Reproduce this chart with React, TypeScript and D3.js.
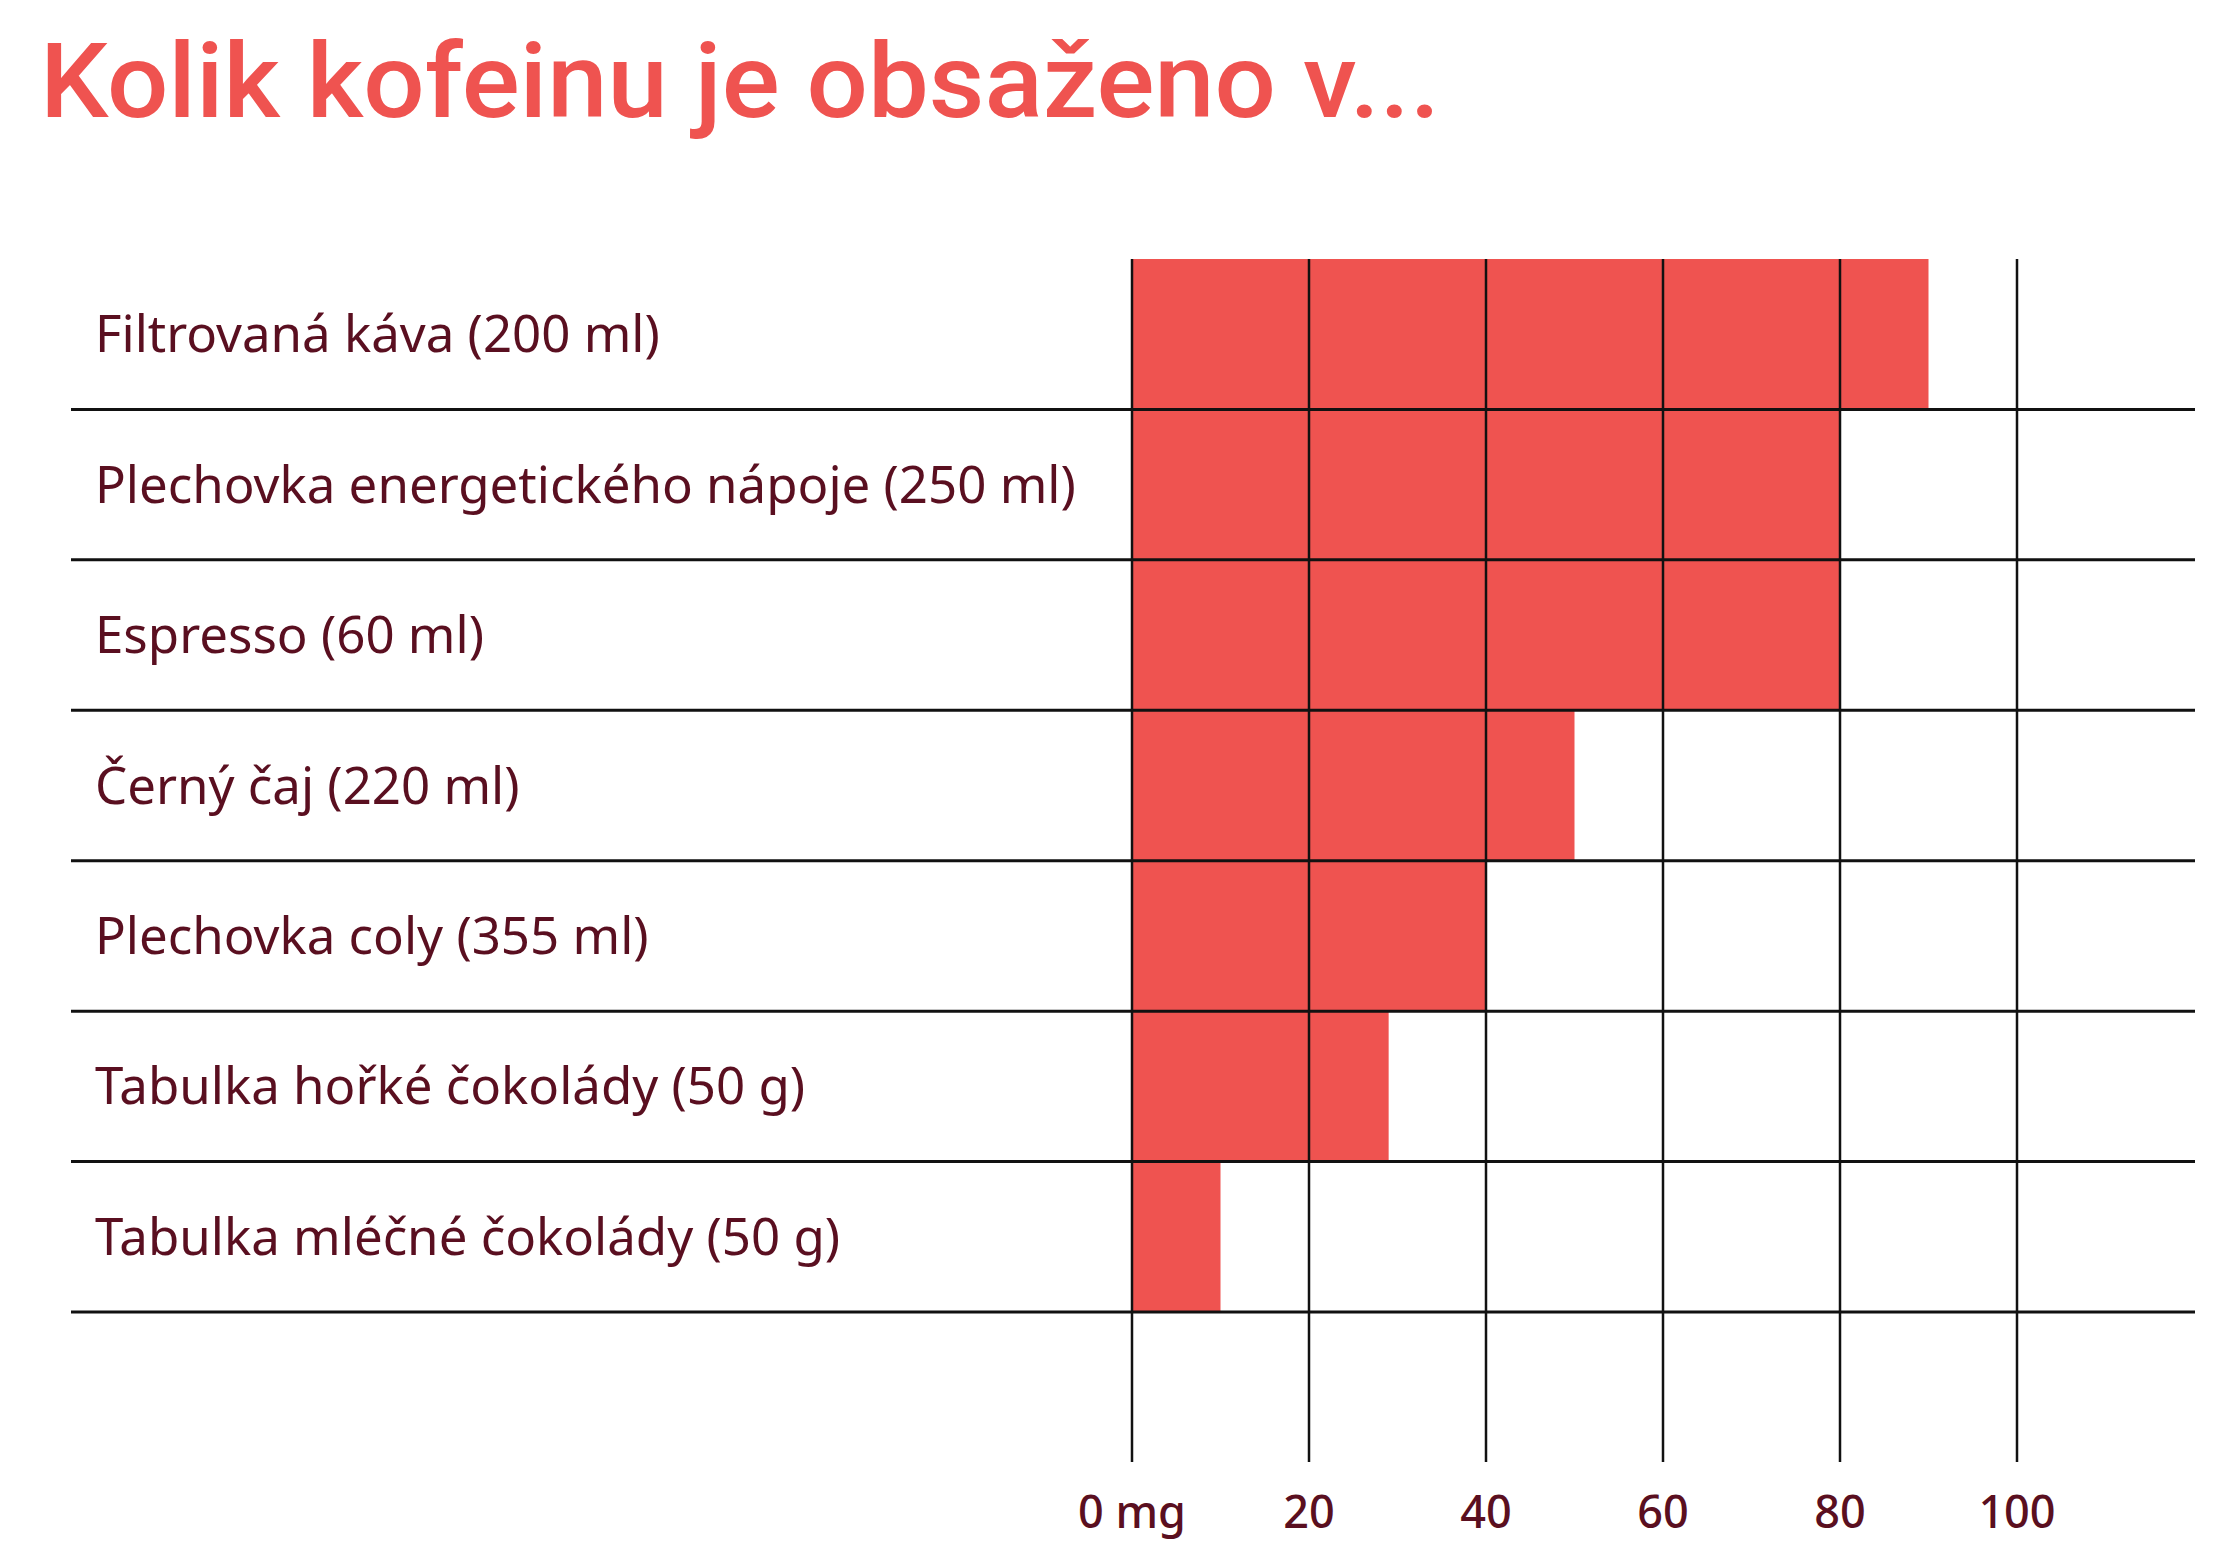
import React from "react";
import * as d3 from "d3";

const categories = [
  "Filtrovaná káva (200 ml)",
  "Plechovka energetického nápoje (250 ml)",
  "Espresso (60 ml)",
  "Černý čaj (220 ml)",
  "Plechovka coly (355 ml)",
  "Tabulka hořké čokolády (50 g)",
  "Tabulka mléčné čokolády (50 g)",
];
const caffeineMg = [90, 80, 80, 50, 40, 29, 10];
const tickValues = [0, 20, 40, 60, 80, 100];
const tickLabels = ["0 mg", "20", "40", "60", "80", "100"];
const title = "Kolik kofeinu je obsaženo v...";

const W = 2219;
const H = 1568;
const RED = "#ef5350";
const MAROON = "#5a0f20";

export default function App() {
  const x = d3.scaleLinear().domain([0, 100]).range([1132, 2017]);
  const y = d3.scaleBand<string>().domain(categories).range([259, 1312]).padding(0);
  const bw = y.bandwidth();
  const gridBottom = 1462;

  return (
    <svg
      width={W}
      height={H}
      style={{ position: "absolute", left: 0, top: 0, background: "#fff" }}
    >
      <text
        x={40}
        y={117}
        fill={RED}
        fontFamily="Roboto, 'Noto Sans', sans-serif"
        fontWeight={500}
        fontSize={104}
        textLength={1400}
        lengthAdjust="spacingAndGlyphs"
      >
        {title}
      </text>

      {categories.map((c, i) => (
        <rect
          key={"b" + c}
          x={x(0)}
          y={y(c)!}
          width={x(caffeineMg[i]) - x(0)}
          height={bw}
          fill={RED}
        />
      ))}

      {categories.map((c) => (
        <line
          key={"h" + c}
          x1={71}
          x2={2195}
          y1={y(c)! + bw}
          y2={y(c)! + bw}
          stroke="#111"
          strokeWidth={3}
        />
      ))}

      {tickValues.map((t) => (
        <line
          key={"v" + t}
          x1={x(t)}
          x2={x(t)}
          y1={259}
          y2={gridBottom}
          stroke="#111"
          strokeWidth={2.5}
        />
      ))}

      {categories.map((c) => (
        <text
          key={"l" + c}
          x={95}
          y={y(c)! + bw / 2 + 18}
          fill={MAROON}
          fontFamily="'Noto Sans', sans-serif"
          fontSize={51}
        >
          {c}
        </text>
      ))}

      {tickValues.map((t, i) => (
        <text
          key={"t" + t}
          x={x(t)}
          y={1528}
          fill={MAROON}
          textAnchor="middle"
          fontFamily="'Noto Sans', sans-serif"
          fontWeight={500}
          fontSize={45}
        >
          {tickLabels[i]}
        </text>
      ))}
    </svg>
  );
}
